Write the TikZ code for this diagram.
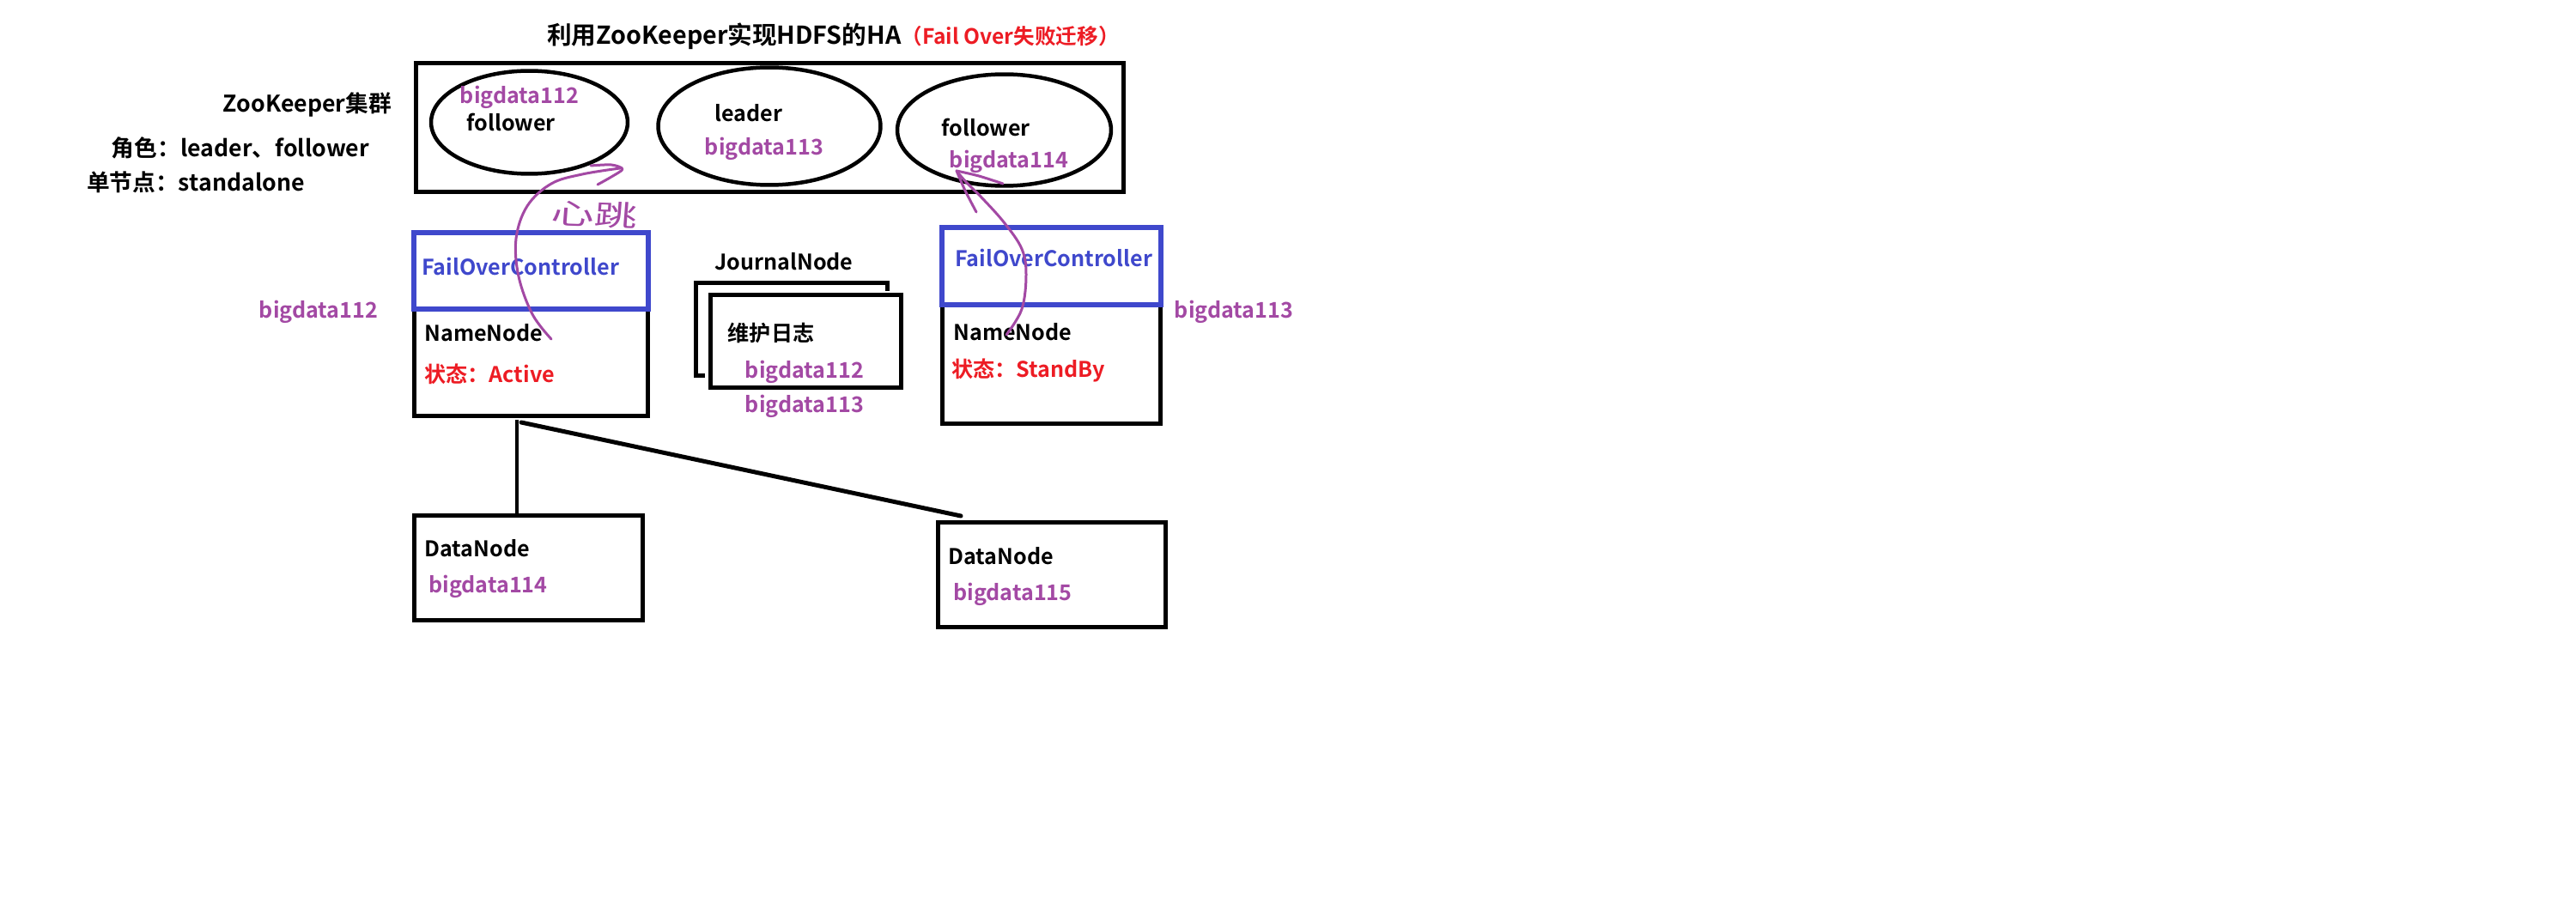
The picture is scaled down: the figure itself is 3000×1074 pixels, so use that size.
\documentclass[tikz,border=0pt]{standalone}
\usepackage{fontspec}
\setmainfont{Noto Sans CJK SC}[BoldFont={* Bold}]
\usetikzlibrary{shapes.geometric}

\definecolor{zkpurple}{RGB}{163,73,164}
\definecolor{zkred}{RGB}{237,28,36}
\definecolor{zkblue}{RGB}{63,72,204}

\newcommand{\lblfont}{\bfseries\fontsize{14.3pt}{17pt}\selectfont}
\newcommand{\notefont}{\bfseries\fontsize{15.2pt}{18pt}\selectfont}

\begin{document}
\begin{tikzpicture}[x=0.02cm, y=-0.02cm,
  lbl/.style={font=\lblfont, inner sep=0pt, text=black},
  note/.style={lbl, font=\notefont},
  host/.style={lbl, text=zkpurple},
  frame/.style={draw=black, line width=0.1cm, rectangle, inner sep=0pt},
  fcbox/.style={draw=zkblue, line width=0.13cm, rectangle, inner sep=0pt},
  zknode/.style={draw=black, line width=0.09cm, ellipse, inner sep=0pt},
  hand/.style={draw=zkpurple, line width=0.06cm, line cap=round, line join=round},
  wire/.style={draw=black, line width=0.09cm}]

\useasboundingbox[fill=white] (0,0) rectangle (3000,1074);

% title
\node[lbl, anchor=west, font=\bfseries\fontsize{16.3pt}{20pt}\selectfont] (title) at (637,42)
  {利用ZooKeeper实现HDFS的HA\textcolor{zkred}{\fontsize{14pt}{18pt}\selectfont （Fail Over失败迁移）}};

% ZooKeeper cluster notes
\node[note] (zkname) at (358,122) {ZooKeeper集群};
\node[note] (roles) at (280,172) {角色：leader、follower};
\node[note] (single) at (228,212) {单节点：standalone};

% ZooKeeper ensemble
\node[frame, minimum width=16.5cm, minimum height=3.02cm] (zk) at (896.5,148.5) {};
\node[zknode, minimum width=4.58cm, minimum height=2.4cm] (zk1) at (616.5,142.5) {};
\node[zknode, minimum width=5.18cm, minimum height=2.74cm] (zk2) at (896,147) {};
\node[zknode, minimum width=4.98cm, minimum height=2.6cm] (zk3) at (1169.5,151.5) {};

\node[host] (zk1host) at (605,113) {bigdata112};
\node[lbl]  (zk1role) at (595,142) {follower};
\node[lbl]  (zk2role) at (872,132) {leader};
\node[host] (zk2host) at (890,173) {bigdata113};
\node[lbl]  (zk3role) at (1148,148) {follower};
\node[host] (zk3host) at (1175,188) {bigdata114};

% active NameNode with its failover controller
\node[frame, minimum width=5.46cm, minimum height=2.5cm] (nnA) at (618.5,422.5) {};
\node[fcbox, minimum width=5.46cm, minimum height=1.78cm] (fcA) at (618.5,315.5) {};
\node[lbl, text=zkblue] (fcAtext) at (606,310) {FailOverController};
\node[lbl, anchor=west] (nnAtext) at (494,388) {NameNode};
\node[lbl, anchor=west, text=zkred] (nnAstate) at (494,436) {状态：Active};
\node[host] (nnAhost) at (371,363) {bigdata112};

% standby NameNode with its failover controller
\node[frame, minimum width=5.1cm, minimum height=2.78cm] (nnB) at (1224.5,424.5) {};
\node[fcbox, minimum width=5.1cm, minimum height=1.8cm] (fcB) at (1224.5,310) {};
\node[lbl, text=zkblue] (fcBtext) at (1227,300) {FailOverController};
\node[lbl, anchor=west] (nnBtext) at (1110,387) {NameNode};
\node[lbl, anchor=west, text=zkred] (nnBstate) at (1108,432) {状态：StandBy};
\node[host] (nnBhost) at (1437,363) {bigdata113};

% JournalNodes
\node[lbl] (jntitle) at (913,305) {JournalNode};
\draw[black, line width=0.1cm] (1033,339) -- (1033,330) -- (810,330) -- (810,438) -- (821,438);
\node[frame, fill=white, minimum width=4.46cm, minimum height=2.18cm] (jn) at (938.5,397.5) {};
\node[lbl] (jntext) at (898,388) {维护日志};
\node[host] (jnhost1) at (937,433) {bigdata112};
\node[host] (jnhost2) at (937,473) {bigdata113};

% DataNodes
\node[frame, minimum width=5.34cm, minimum height=2.46cm] (dnA) at (615.5,661.5) {};
\node[lbl, anchor=west] (dnAtext) at (494,639) {DataNode};
\node[host, anchor=west] (dnAhost) at (499,683) {bigdata114};

\node[frame, minimum width=5.32cm, minimum height=2.46cm] (dnB) at (1225,669.5) {};
\node[lbl, anchor=west] (dnBtext) at (1104,648) {DataNode};
\node[host, anchor=west] (dnBhost) at (1110,692) {bigdata115};

% links from the active NameNode to the DataNodes
\coordinate (fork) at (602,489);
\coordinate (forkB) at (607,492);
\coordinate (dnBend) at (1119,601);
\draw[wire, line width=0.08cm] (fork) -- (fork |- dnA.north);
\draw[wire, line width=0.1cm, line cap=round] (forkB) -- (dnBend);

% heartbeat strokes
\draw[hand] plot[smooth, tension=0.6] coordinates
  {(642,395) (620,366) (604,322) (601,278) (614,240) (642,214) (678,203) (722,196)};
\draw[hand] plot[smooth, tension=0.5] coordinates {(688,193) (712,192) (725,197) (712,206) (696,215)};
\node[hand, draw=none, text=zkpurple, font=\fontsize{19pt}{22pt}\selectfont, xscale=1.5, rotate=-3, inner sep=0pt] (beat) at (692,250) {心跳};

\draw[hand] plot[smooth, tension=0.6] coordinates
  {(1172,390) (1190,360) (1195,320) (1190,290) (1170,260) (1145,232) (1125,212) (1114,199)};
\draw[hand] plot[smooth, tension=0.5] coordinates {(1168,214) (1140,205) (1114,199)};
\draw[hand] plot[smooth, tension=0.5] coordinates {(1114,199) (1124,222) (1137,247)};
\end{tikzpicture}
\end{document}
